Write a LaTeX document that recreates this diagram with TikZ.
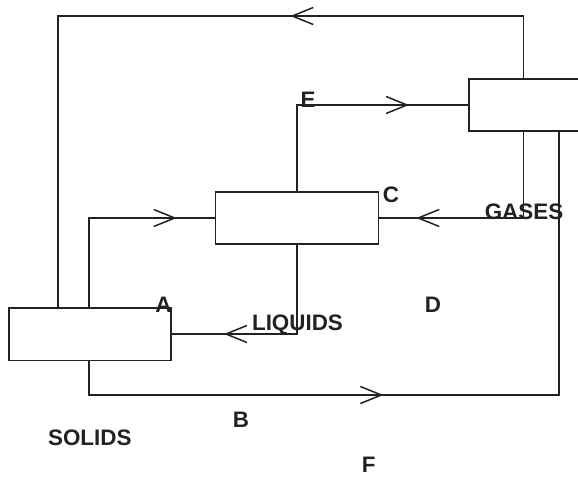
\documentclass[tikz,border=0pt]{standalone}
\usepackage{fontspec}
\setmainfont{Liberation Sans}
\usetikzlibrary{arrows.meta,decorations.markings}
\definecolor{ink}{HTML}{222222}
\tikzset{
  box/.style={draw=ink, line width=1.6pt, minimum width=163pt, minimum height=52.5pt, inner sep=0pt, fill=white},
  flow/.style={draw=ink, line width=1.5pt},
  midarrow/.style={postaction={decorate}, decoration={markings,
     mark=at position #1 with {\arrow[ink, line width=1.5pt]{Straight Barb[length=21pt,width=17pt]}}}},
  lbl/.style={text=ink, font=\bfseries\fontsize{22.4}{26}\selectfont, anchor=base, inner sep=0pt}
}
\begin{document}
\begin{tikzpicture}[x=1pt,y=-1pt]
\useasboundingbox (0,0) rectangle (578,477);
\clip (0,0) rectangle (578,477);
% boxes
\node[box, minimum width=162pt] (solids) at (90,334.3) {};
\node[box] (c) at (297,218) {};
\node[box] (gases) at (550.5,105) {};
% column coordinates
\coordinate (xa) at (58,0);
\coordinate (xb) at (89,0);
\coordinate (xc) at (297,0);
\coordinate (xg) at (523.3,0);
\coordinate (xh) at (559,0);
\coordinate (ytop) at (0,16);
\coordinate (ye) at (0,105);
\coordinate (yliq) at (0,334);
\coordinate (ybot) at (0,395);
% connectors
\draw[flow, midarrow=295pt] (gases.north -| xg) -- (xg |- ytop) -- (xa |- ytop) -- (solids.north -| xa);
\draw[flow, midarrow=198pt] (c.north -| xc) -- (xc |- ye) -- (gases.west |- ye);
\draw[flow, midarrow=177pt] (solids.north -| xb) -- (xb |- c.west) -- (c.west);
\draw[flow, midarrow=193pt] (gases.south -| xg) -- (xg |- c.east) -- (c.east);
\draw[flow, midarrow=162pt] (c.south -| xc) -- (xc |- yliq) -- (solids.east |- yliq);
\draw[flow, midarrow=328pt] (solids.south -| xb) -- (xb |- ybot) -- (xh |- ybot) -- (gases.south -| xh);
% labels
\node[lbl] (le) at (308,107) {E};
\node[lbl] (lc) at (391,202) {C};
\node[lbl] (lgases) at (524,219) {GASES};
\node[lbl] (la) at (163.5,312) {A};
\node[lbl] (ld) at (433,312) {D};
\node[lbl] (lliq) at (297.5,330) {LIQUIDS};
\node[lbl] (lb) at (241,427) {B};
\node[lbl] (lsolids) at (89.8,445) {SOLIDS};
\node[lbl] (lf) at (368.7,472) {F};
\end{tikzpicture}
\end{document}
